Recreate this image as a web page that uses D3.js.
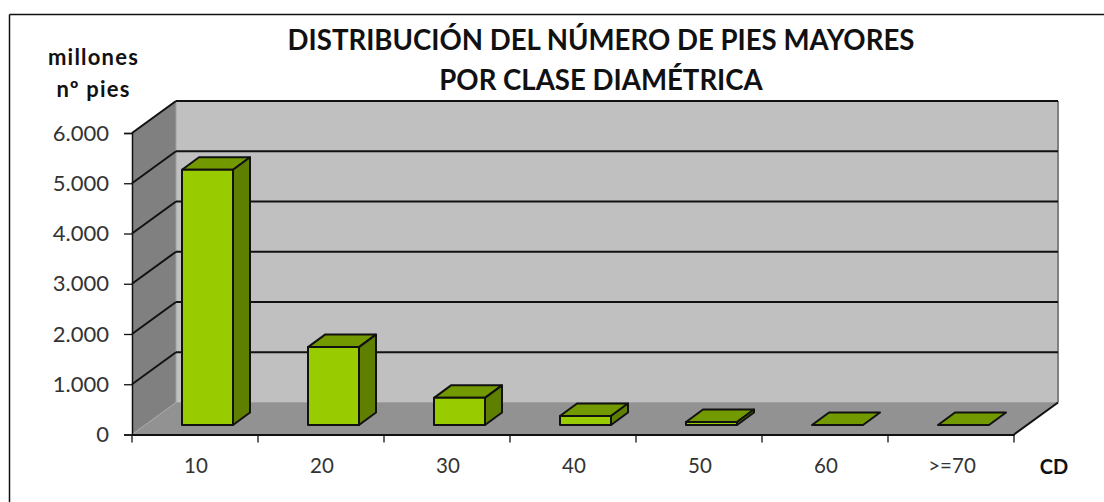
<!DOCTYPE html>
<html><head><meta charset="utf-8">
<script src="https://cdn.jsdelivr.net/npm/d3@7"></script>
<style>html,body{margin:0;background:#fff;overflow:hidden}svg{display:block}text{font-family:Lato,"Open Sans",sans-serif}</style>
</head><body><div id="c"></div>
<script>
const titleLines = ["DISTRIBUCIÓN DEL NÚMERO DE PIES MAYORES", "POR CLASE DIAMÉTRICA"];
const yTitleLines = ["millones", "nº pies"];
const xTitle = "CD";
const categories = ["10","20","30","40","50","60",">=70"];
const values = [5080,1550,540,180,60,0,0];
const yTicks = [0,1000,2000,3000,4000,5000,6000];

const W=1104,H=502;
const svg=d3.select("#c").append("svg").attr("width",W).attr("height",H);
const fmt=d=>d3.format(",")(d).replace(/,/g,".");
const x=d3.scaleBand().domain(categories).range([132,1014]).paddingInner(0);
const y=d3.scaleLinear().domain([0,6000]).range([434.5,133]);
const dX=44,dY=-32;
const bx=x.bandwidth();

const poly=(pts,fill,stroke,sw)=>svg.append("polygon").attr("points",pts.map(p=>p.join(",")).join(" ")).attr("fill",fill).attr("stroke",stroke||"none").attr("stroke-width",sw||0).attr("stroke-linejoin","round");
const line=(a,b,s,w)=>svg.append("line").attr("x1",a[0]).attr("y1",a[1]).attr("x2",b[0]).attr("y2",b[1]).attr("stroke",s).attr("stroke-width",w);

// open frame: top and left edges only reach the picture
line([9.5,14.5],[W,14.5],"#111",1.5);
line([9.5,14.5],[9.5,H],"#111",1.5);

const x0=x.range()[0],x1=x.range()[1],y0=y(0),yT=y(6000);
poly([[x0+dX,yT+dY],[x1+dX,yT+dY],[x1+dX,y0+dY],[x0+dX,y0+dY]],"#c0c0c0");
poly([[x0,yT],[x0+dX,yT+dY],[x0+dX,y0+dY],[x0,y0]],"#808080");
poly([[x0,y0],[x0+dX,y0+dY],[x1+dX,y0+dY],[x1,y0]],"#929292");
line([x0+dX,y0+dY],[x1+dX,y0+dY],"#a0a0a0",1);
line([x0+dX,yT+dY],[x0+dX,y0+dY],"#a0a0a0",1);
line([x1+dX,yT+dY],[x1+dX,y0+dY],"#808080",2);
line([x0,y0],[x0+dX,y0+dY],"#a8a8a8",1);
yTicks.filter(d=>d>0).forEach(d=>{
  const p=y(d);
  line([x0,p],[x0+dX,p+dY],"#111",2);
  line([x0+dX,p+dY],[x1+dX,p+dY],"#111",2);
});
line([x1,y0],[x1+dX,y0+dY],"#111",2);

const bw=51, ddx=17, ddy=-12.5, fy=-9.5, pad=(bx-bw)/2+12.5;
categories.forEach((c,i)=>{
  const v=values[i];
  const l=x(c)+pad, r=l+bw;
  const b=y(0)+fy, t=y(v)+fy;
  const s="#111",sw=2;
  poly([[l,t],[l+ddx,t+ddy],[r+ddx,t+ddy],[r,t]],"#739900",s,sw);
  if(v>0){
    poly([[r,t],[r+ddx,t+ddy],[r+ddx,b+ddy],[r,b]],"#5f7f00",s,sw);
    poly([[l,t],[r,t],[r,b],[l,b]],"#99cc00",s,sw);
  }
});

const xa=d3.axisBottom(x).tickValues([]).tickSize(0).tickFormat("");
const ga=svg.append("g").attr("transform",`translate(0,${y0})`).call(xa);
ga.select(".domain").attr("stroke","#111").attr("stroke-width",2);
d3.range(0,categories.length+1).forEach(i=>{
  const px=x0+i*bx;
  line([px,y0],[px,y0+8],"#111",1.3);
});
categories.forEach(c=>{
  svg.append("text").attr("x",x(c)+bx/2+1).attr("y",473).attr("text-anchor","middle").attr("font-size",20.5).attr("fill","#333").text(c);
});
const ya=d3.axisLeft(y).tickValues(yTicks).tickSize(8).tickFormat(fmt);
const gy=svg.append("g").attr("transform",`translate(${x0},0)`).call(ya);
gy.select(".domain").attr("stroke","#111").attr("stroke-width",1.5);
gy.selectAll(".tick line").attr("stroke","#111").attr("stroke-width",1.3);
gy.selectAll(".tick text").attr("x",-23).attr("font-size",22).attr("fill","#333").attr("font-family","Lato,sans-serif");

titleLines.forEach((t,i)=>svg.append("text").attr("x",601).attr("y",[50,90][i]).attr("text-anchor","middle").attr("font-size",27.6).attr("font-weight",700).attr("fill","#111").text(t));
yTitleLines.forEach((t,i)=>svg.append("text").attr("x",93.5).attr("y",[65,97][i]).attr("text-anchor","middle").attr("font-size",22).attr("letter-spacing",1.2).attr("font-weight",700).attr("fill","#111").text(t));
svg.append("text").attr("x",1054).attr("y",474).attr("text-anchor","middle").attr("font-size",20).attr("font-weight",700).attr("fill","#111").text(xTitle);
</script></body></html>
